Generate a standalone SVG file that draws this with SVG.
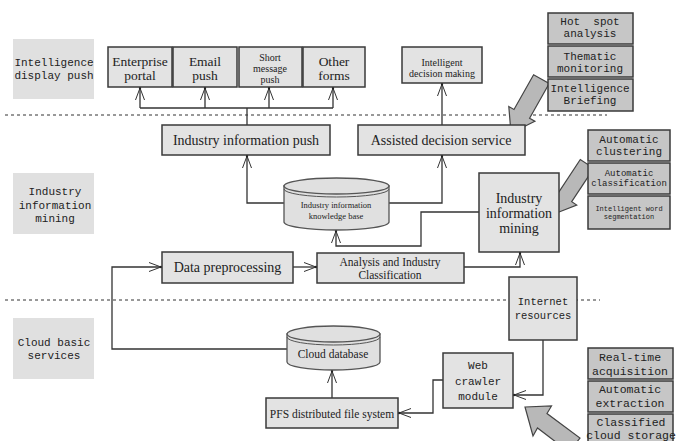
<svg xmlns="http://www.w3.org/2000/svg" width="676" height="441" viewBox="0 0 676 441">
<style>
.lbl{fill:#e0e0e0;stroke:none}
.box{fill:#e3e3e3;stroke:#3a3a3a;stroke-width:1.5}
.dbox{fill:#c6c6c6;stroke:#3a3a3a;stroke-width:1.5}
.big{fill:#b8b8b8;stroke:#444;stroke-width:1.2}
.cyl{fill:#e0e0e0;stroke:#555;stroke-width:1.3}
.s{font-family:"Liberation Serif","Times New Roman",serif;fill:#222;text-anchor:middle;dominant-baseline:central}
.m{font-family:"Liberation Mono","Courier New",monospace;fill:#222;text-anchor:middle;dominant-baseline:central}
.con{fill:none;stroke:#333;stroke-width:1.3}
.dash{fill:none;stroke:#333;stroke-width:1;stroke-dasharray:3 3}
</style>
<defs>
<marker id="ah" viewBox="-14 -6 16 12" refX="0" refY="0" markerWidth="16" markerHeight="12" orient="auto" markerUnits="userSpaceOnUse">
<path d="M-12,-4.5 L0,0 L-12,4.5" fill="none" stroke="#333" stroke-width="1"/>
<circle cx="0" cy="0" r="1.2" fill="#222"/>
</marker>
</defs>
<rect width="676" height="441" fill="#ffffff"/>

<g id="dashed-lines">
<line class="dash" x1="5" y1="115" x2="607" y2="115"/>
<line class="dash" x1="5" y1="300" x2="600" y2="300"/>
</g>

<g id="label-intelligence-display-push">
<rect class="lbl" x="13" y="39" width="81" height="60"/>
<text class="m" font-size="11" x="54" y="63">Intelligence</text>
<text class="m" font-size="11" x="54" y="76">display push</text>
</g>
<g id="label-industry-information-mining">
<rect class="lbl" x="13" y="173" width="81" height="61"/>
<text class="m" font-size="11" x="55" y="192">Industry</text>
<text class="m" font-size="11" x="55" y="206">information</text>
<text class="m" font-size="11" x="55" y="219">mining</text>
</g>
<g id="label-cloud-basic-services">
<rect class="lbl" x="13" y="318" width="81" height="61"/>
<text class="m" font-size="11" x="54" y="343">Cloud basic</text>
<text class="m" font-size="11" x="54" y="356">services</text>
</g>

<g id="big-arrows">
<polygon class="big" points="511,133 508.8,106.5 514,109.5 533.6,74.7 549.2,83.5 529.6,118.3 534.9,121.3"/>
<polygon class="big" points="554,214 553.3,189.6 558.3,192.9 580.3,159.5 593.7,168.3 571.7,201.7 576.7,205"/>
<polygon class="big" points="525,407 551.5,406 547,413.5 580,438 569,452 537.5,428 533,436"/>
</g>

<g id="connectors">
<polyline class="con" points="247,125 247,108"/>
<line class="con" x1="140" y1="108" x2="333" y2="108"/>
<line class="con" x1="140" y1="108" x2="140" y2="88" marker-end="url(#ah)"/>
<line class="con" x1="205" y1="108" x2="205" y2="88" marker-end="url(#ah)"/>
<line class="con" x1="269" y1="108" x2="269" y2="88" marker-end="url(#ah)"/>
<line class="con" x1="333" y1="108" x2="333" y2="88" marker-end="url(#ah)"/>
<line class="con" x1="442" y1="125" x2="442" y2="84" marker-end="url(#ah)"/>
<polyline class="con" points="284,203 247,203 247,156" marker-end="url(#ah)"/>
<polyline class="con" points="389,203 442,203 442,156" marker-end="url(#ah)"/>
<polyline class="con" points="479,212 421,212 421,246 336,246 336,231" marker-end="url(#ah)"/>
<polyline class="con" points="287,349 112,349 112,267 161,267" marker-end="url(#ah)"/>
<line class="con" x1="293" y1="267" x2="316" y2="267" marker-end="url(#ah)"/>
<polyline class="con" points="464,267 520,267 520,253" marker-end="url(#ah)"/>
<polyline class="con" points="543,340 543,395 514,395" marker-end="url(#ah)"/>
<polyline class="con" points="443,380 433,380 433,413 399,413" marker-end="url(#ah)"/>
<line class="con" x1="332" y1="398" x2="332" y2="371" marker-end="url(#ah)"/>
</g>

<g id="enterprise-portal">
<rect class="box" x="108" y="47" width="64" height="40"/>
<text class="s" font-size="13.5" x="140" y="61">Enterprise</text>
<text class="s" font-size="13.5" x="140" y="75">portal</text>
</g>
<g id="email-push">
<rect class="box" x="173" y="47" width="64" height="40"/>
<text class="s" font-size="13.5" x="205" y="61">Email</text>
<text class="s" font-size="13.5" x="205" y="75">push</text>
</g>
<g id="short-message-push">
<rect class="box" x="239" y="47" width="63" height="40"/>
<text class="s" font-size="10" x="270" y="57">Short</text>
<text class="s" font-size="10" x="270" y="68">message</text>
<text class="s" font-size="10" x="270" y="79">push</text>
</g>
<g id="other-forms">
<rect class="box" x="303" y="47" width="62" height="40"/>
<text class="s" font-size="13.5" x="334" y="61">Other</text>
<text class="s" font-size="13.5" x="334" y="75">forms</text>
</g>
<g id="intelligent-decision-making">
<rect class="box" x="402" y="47" width="80" height="36"/>
<text class="s" font-size="10" x="442" y="62">Intelligent</text>
<text class="s" font-size="10" x="442" y="73">decision making</text>
</g>

<g id="hot-spot-analysis">
<rect class="dbox" x="548" y="13" width="85" height="31"/>
<text class="m" font-size="11" x="590" y="22" xml:space="preserve">Hot  spot</text>
<text class="m" font-size="11" x="590" y="34">analysis</text>
</g>
<g id="thematic-monitoring">
<rect class="dbox" x="548" y="46" width="85" height="31"/>
<text class="m" font-size="11" x="590" y="57">Thematic</text>
<text class="m" font-size="11" x="590" y="69">monitoring</text>
</g>
<g id="intelligence-briefing">
<rect class="dbox" x="548" y="79" width="85" height="32"/>
<text class="m" font-size="11" x="590" y="89">Intelligence</text>
<text class="m" font-size="11" x="590" y="101">Briefing</text>
</g>

<g id="industry-information-push">
<rect class="box" x="162" y="125" width="168" height="30"/>
<text class="s" font-size="14" x="246" y="140">Industry information push</text>
</g>
<g id="assisted-decision-service">
<rect class="box" x="358" y="125" width="167" height="30"/>
<text class="s" font-size="14" x="441" y="140">Assisted decision service</text>
</g>

<g id="automatic-clustering">
<rect class="dbox" x="588" y="130" width="82" height="31"/>
<text class="m" font-size="11" x="629" y="139.5">Automatic</text>
<text class="m" font-size="11" x="629" y="152">clustering</text>
</g>
<g id="automatic-classification">
<rect class="dbox" x="588" y="163" width="82" height="31"/>
<text class="m" font-size="9" x="629" y="173.5">Automatic</text>
<text class="m" font-size="9" x="629" y="184">classification</text>
</g>
<g id="intelligent-word-segmentation">
<rect class="dbox" x="588" y="196" width="82" height="33"/>
<text class="m" font-size="7" x="629" y="208.5">Intelligent word</text>
<text class="m" font-size="7" x="629" y="217">segmentation</text>
</g>

<g id="knowledge-base">
<path class="cyl" d="M284,186 L284,222 A52.5,8 0 0 0 389,222 L389,186 Z"/>
<ellipse class="cyl" cx="336.5" cy="186" rx="52.5" ry="8"/>
<path d="M284,189 A52.5,8 0 0 0 389,189" fill="none" stroke="#555" stroke-width="1"/>
<text class="s" font-size="8.5" x="336" y="205">Industry information</text>
<text class="s" font-size="8.5" x="336" y="216">knowledge base</text>
</g>

<g id="industry-information-mining">
<rect class="box" x="479" y="173" width="80" height="79"/>
<text class="s" font-size="14" x="519" y="198">Industry</text>
<text class="s" font-size="14" x="519" y="213">information</text>
<text class="s" font-size="14" x="519" y="228">mining</text>
</g>

<g id="data-preprocessing">
<rect class="box" x="162" y="252" width="131" height="31"/>
<text class="s" font-size="14" x="227.5" y="267">Data preprocessing</text>
</g>
<g id="analysis-classification">
<rect class="box" x="317" y="253" width="147" height="30"/>
<text class="s" font-size="11.5" x="390" y="261.5">Analysis and Industry</text>
<text class="s" font-size="11.5" x="390" y="274.5">Classification</text>
</g>

<g id="internet-resources">
<rect class="box" x="509" y="277" width="68" height="63"/>
<text class="m" font-size="10.5" x="543" y="302">Internet</text>
<text class="m" font-size="10.5" x="543" y="316">resources</text>
</g>

<g id="cloud-database">
<path class="cyl" d="M287,334 L287,362 A46.5,8 0 0 0 380,362 L380,334 Z"/>
<ellipse class="cyl" cx="333.5" cy="334" rx="46.5" ry="8"/>
<path d="M287,337 A46.5,8 0 0 0 380,337" fill="none" stroke="#555" stroke-width="1"/>
<text class="s" font-size="11.5" x="333" y="354">Cloud database</text>
</g>

<g id="web-crawler-module">
<rect class="box" x="443" y="353" width="70" height="55"/>
<text class="m" font-size="11" x="478" y="366">Web</text>
<text class="m" font-size="11" x="478" y="382">crawler</text>
<text class="m" font-size="11" x="478" y="397">module</text>
</g>

<g id="pfs">
<rect class="box" x="266" y="398" width="132" height="30"/>
<text class="s" font-size="11.5" x="332" y="414">PFS distributed file system</text>
</g>

<g id="real-time-acquisition">
<rect class="dbox" x="588" y="348" width="85" height="31"/>
<text class="m" font-size="11.5" x="630" y="357">Real-time</text>
<text class="m" font-size="11.5" x="630" y="371">acquisition</text>
</g>
<g id="automatic-extraction">
<rect class="dbox" x="588" y="381" width="85" height="31"/>
<text class="m" font-size="11.5" x="630" y="389">Automatic</text>
<text class="m" font-size="11.5" x="630" y="403">extraction</text>
</g>
<g id="classified-cloud-storage">
<rect class="dbox" x="588" y="414" width="85" height="32"/>
<text class="m" font-size="11.5" x="631" y="422">Classified</text>
<text class="m" font-size="11.5" x="631" y="435">cloud storage</text>
</g>
</svg>
